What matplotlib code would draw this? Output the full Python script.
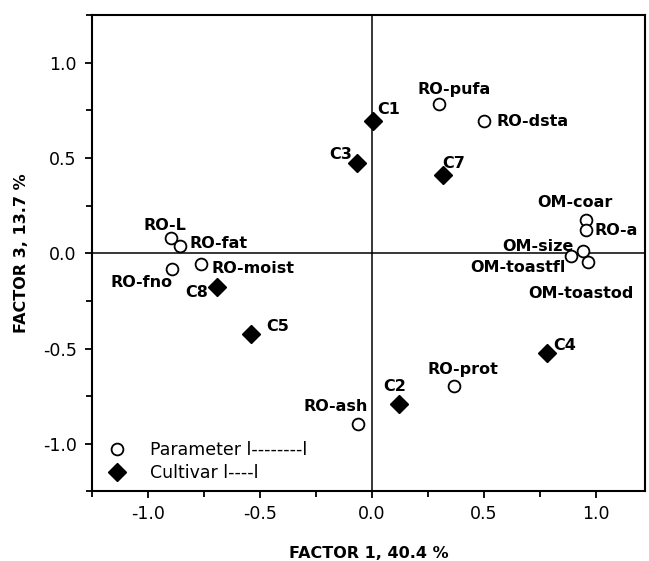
import numpy as np
import matplotlib
matplotlib.use("Agg")
import matplotlib.pyplot as plt
from matplotlib.ticker import MultipleLocator

# DATA -------------------------------------------
param_names = ['RO-L', 'RO-fat', 'RO-fno', 'RO-moist', 'RO-pufa', 'RO-dsta',
               'OM-coar', 'RO-a', 'OM-size', 'OM-toastfl', 'OM-toastod',
               'RO-prot', 'RO-ash']
param_x = [-0.896, -0.859, -0.892, -0.765, 0.300, 0.501,
           0.957, 0.957, 0.945, 0.889, 0.965, 0.368, -0.061]
param_y = [0.082, 0.037, -0.082, -0.054, 0.782, 0.694,
           0.173, 0.121, 0.012, -0.016, -0.047, -0.698, -0.894]

cult_names = ['C1', 'C3', 'C7', 'C8', 'C5', 'C2', 'C4']
cult_x = [0.006, -0.066, 0.316, -0.692, -0.538, 0.121, 0.782]
cult_y = [0.694, 0.471, 0.409, -0.177, -0.422, -0.789, -0.523]

# label placement (pixels offset, alignment) ------
lab_pos = {
    'RO-L': (-6, 12, 'center'), 'RO-fat': (10, 3, 'left'),
    'RO-fno': (0, -14, 'right'), 'RO-moist': (11, -5, 'left'),
    'RO-pufa': (15, 15, 'center'), 'RO-dsta': (12, -1, 'left'),
    'OM-coar': (-11, 18, 'center'), 'RO-a': (8, 0, 'left'),
    'OM-size': (-10, 4, 'right'), 'OM-toastfl': (-5, -11, 'right'),
    'OM-toastod': (-7, -31, 'center'), 'RO-prot': (9, 17, 'center'),
    'RO-ash': (10, 17, 'right'),
    'C1': (15, 11, 'center'), 'C3': (-16, 9, 'center'), 'C7': (11, 12, 'center'),
    'C8': (-20, -6, 'center'), 'C5': (26, 7, 'center'), 'C2': (-4, 17, 'center'),
    'C4': (18, 7, 'center'),
}

plt.rcParams['font.family'] = 'DejaVu Sans'

fig = plt.figure(figsize=(6.49, 5.61), dpi=100)
ax = fig.add_axes([0.1418, 0.1239, 0.852, 0.8494])

ax.axhline(0, color='black', lw=1.1, zorder=1)
ax.axvline(0, color='black', lw=1.1, zorder=1)

ax.plot(param_x, param_y, 'o', ms=8.5, mfc='white', mec='black', mew=1.3,
        ls='none', label='Parameter l--------l', zorder=3)
ax.plot(cult_x, cult_y, 'D', ms=9, mfc='black', mec='black',
        ls='none', label='Cultivar l----l', zorder=3)

for names, xs, ys in [(param_names, param_x, param_y), (cult_names, cult_x, cult_y)]:
    for n, x, y in zip(names, xs, ys):
        dx, dy, ha = lab_pos[n]
        ax.annotate(n, (x, y), xytext=(dx, dy), textcoords='offset pixels',
                    ha=ha, va='center', fontsize=11.5, fontweight='bold')

ax.set_xlim(-1.25, 1.22)
ax.set_ylim(-1.25, 1.25)
ax.xaxis.set_minor_locator(MultipleLocator(0.25))
ax.yaxis.set_minor_locator(MultipleLocator(0.25))
ax.set_xticks([-1.0, -0.5, 0.0, 0.5, 1.0])
ax.set_xticklabels(['-1.0', '-0.5', '0.0', '0.5', '1.0'])
ax.set_yticks([-1.0, -0.5, 0.0, 0.5, 1.0])
ax.set_yticklabels(['-1.0', '-0.5', '0.0', '0.5', '1.0'])
ax.tick_params(which='both', direction='out', width=1.3, labelsize=12.5)
ax.tick_params(which='major', length=5)
ax.tick_params(which='minor', length=4)
ax.tick_params(axis='x', which='major', pad=4.5)
ax.tick_params(axis='y', which='major', pad=6)
for s in ax.spines.values():
    s.set_linewidth(1.5)

ax.set_xlabel('FACTOR 1, 40.4 %', fontsize=11.5, fontweight='bold', labelpad=17)
ax.set_ylabel('FACTOR 3, 13.7 %', fontsize=11.5, fontweight='bold', labelpad=10)

ax.legend(loc='lower left', bbox_to_anchor=(0.026, 0.02), frameon=False,
          fontsize=12.5, handlelength=1.2, handletextpad=1.3, labelspacing=0.3,
          borderpad=0, borderaxespad=0)

plt.savefig('out.png', dpi=100)
